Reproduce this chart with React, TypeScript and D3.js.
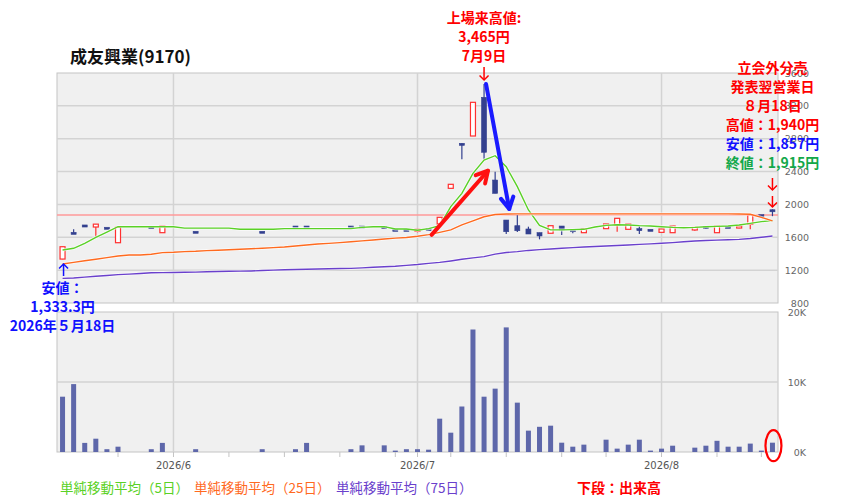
import * as d3 from "d3";

// trading days, 2026-05-18 .. 2026-08-18
const dates = [
  "2026-05-18", "2026-05-19", "2026-05-20", "2026-05-21", "2026-05-22",
  "2026-05-25", "2026-05-26", "2026-05-27", "2026-05-28", "2026-05-29",
  "2026-06-01", "2026-06-02", "2026-06-03", "2026-06-04", "2026-06-05",
  "2026-06-08", "2026-06-09", "2026-06-10", "2026-06-11", "2026-06-12",
  "2026-06-15", "2026-06-16", "2026-06-17", "2026-06-18", "2026-06-19",
  "2026-06-22", "2026-06-23", "2026-06-24", "2026-06-25", "2026-06-26",
  "2026-06-29", "2026-06-30",
  "2026-07-01", "2026-07-02", "2026-07-03", "2026-07-06", "2026-07-07",
  "2026-07-08", "2026-07-09", "2026-07-10", "2026-07-13", "2026-07-14",
  "2026-07-15", "2026-07-16", "2026-07-17", "2026-07-21", "2026-07-22",
  "2026-07-23", "2026-07-24", "2026-07-27", "2026-07-28", "2026-07-29",
  "2026-07-30", "2026-07-31",
  "2026-08-03", "2026-08-04", "2026-08-05", "2026-08-06", "2026-08-07",
  "2026-08-10", "2026-08-12", "2026-08-13", "2026-08-14", "2026-08-17",
  "2026-08-18",
];

const N = null;
const opens = [
  1335, 1660, 1750, 1725, 1722, 1534, N, N, 1729, 1656,
  N, N, 1673, N, N, N, N, N, 1673, N,
  N, 1737, 1737, N, N, N, 1737, 1737, N, 1729,
  1697, 1697, 1680, 1705, 1762, 2196, 2744, 2833, 3304, 2297,
  1810, 1741, 1701, 1656, 1649, 1737, 1692, 1656, N, 1705,
  1750, 1697, 1705, 1697, 1660, 1656, N, 1689, 1733, 1656,
  1733, 1733, 1758, 1875, 1935,
];
const highs = [
  1485, 1697, 1750, 1762, 1722, 1722, N, N, 1729, 1737,
  N, N, 1673, N, N, N, N, N, 1673, N,
  N, 1737, 1737, N, N, N, 1737, 1737, N, 1729,
  1697, 1697, 1697, 1705, 1843, 2245, 2744, 3243, 3465, 2398,
  1810, 1871, 1729, 1656, 1741, 1737, 1692, 1705, N, 1762,
  1831, 1762, 1737, 1697, 1701, 1737, N, 1721, 1733, 1737,
  1733, 1737, 1871, 1875, 1940,
];
const lows = [
  1333, 1656, 1725, 1607, 1722, 1534, N, N, 1729, 1656,
  N, N, 1673, N, N, N, N, N, 1673, N,
  N, 1737, 1737, N, N, N, 1737, 1737, N, 1729,
  1697, 1697, 1660, 1705, 1762, 2196, 2549, 2833, 2549, 2135,
  1640, 1665, 1640, 1575, 1649, 1628, 1649, 1656, N, 1705,
  1668, 1697, 1640, 1697, 1660, 1656, N, 1680, 1700, 1656,
  1733, 1710, 1697, 1875, 1857,
];
const closes = [
  1485, 1656, 1725, 1760, 1722, 1722, N, N, 1729, 1737,
  N, N, 1673, N, N, N, N, N, 1673, N,
  N, 1737, 1737, N, N, N, 1737, 1737, N, 1729,
  1697, 1697, 1697, 1705, 1843, 2245, 2720, 3243, 2635, 2135,
  1668, 1680, 1640, 1616, 1741, 1689, 1689, 1705, N, 1762,
  1831, 1762, 1695, 1697, 1701, 1737, N, 1721, 1729, 1737,
  1733, 1737, 1871, 1875, 1915,
];

// volume, thousands of shares
const volumes = [
  7.9, 9.7, 1.3, 1.9, 0.4, 0.76, 0, 0, 0.4, 1.3,
  0, 0, 0.4, 0, 0, 0, 0, 0, 0.4, 0,
  0, 0.4, 1.3, 0, 0, 0, 0.4, 0.95, 0, 0.95,
  0.2, 0.4, 0.4, 0.33, 4.76, 2.76, 6.5, 17.5, 7.9, 9.05,
  17.8, 7.05, 3.05, 3.6, 3.76, 1.33, 0.76, 1.05, 0, 1.76,
  0.48, 1.05, 1.76, 0.2, 0.48, 0.9, 0, 0.62, 0.9, 1.6,
  0.76, 0.76, 1.2, 0.2, 1.33,
];

const ma5 = [
  1445, 1466, 1527, 1600, 1664, 1729, 1729, 1729, 1729, 1729,
  1729, 1712, 1712, 1712, 1712, 1712, 1698, 1698, 1698, 1698,
  1706, 1706, 1706, 1706, 1706, 1706, 1706, 1721, 1729, 1729,
  1701, 1701, 1685, 1705, 1741, 1973, 2135, 2379, 2541, 2593,
  2459, 2216, 1932, 1745, 1690, 1690, 1693, 1697, 1725, 1745,
  1753, 1750, 1742, 1737, 1729, 1721, 1717, 1721, 1729, 1733,
  1737, 1750, 1770, 1790, 1805,
];
const ma25 = [
  1275, 1295, 1315, 1332, 1352, 1372, 1384, 1384, 1393, 1413,
  1417, 1425, 1430, 1438, 1442, 1448, 1455, 1460, 1466, 1474,
  1482, 1494, 1506, 1518, 1526, 1535, 1545, 1556, 1567, 1580,
  1590, 1598, 1612, 1632, 1660, 1690, 1750, 1800, 1850, 1878,
  1884, 1885, 1885, 1885, 1885, 1885, 1885, 1885, 1885, 1885,
  1885, 1885, 1885, 1885, 1885, 1885, 1885, 1885, 1885, 1885,
  1885, 1884, 1880, 1842, 1800,
];
const ma75 = [
  1100, 1105, 1115, 1125, 1135, 1145, 1152, 1160, 1168, 1170,
  1172, 1174, 1176, 1180, 1183, 1186, 1188, 1190, 1195, 1200,
  1204, 1208, 1211, 1214, 1217, 1220, 1222, 1228, 1235, 1241,
  1247, 1258, 1268, 1282, 1295, 1312, 1332, 1350, 1365, 1395,
  1415, 1425, 1440, 1450, 1458, 1466, 1474, 1482, 1488, 1494,
  1500, 1506, 1514, 1520, 1527, 1535, 1545, 1555, 1560, 1565,
  1570, 1575, 1585, 1600, 1616,
];

const refPrice = 1871;
const priceTicks = [800, 1200, 1600, 2000, 2400, 2800, 3200, 3600];
const volTicks = [0, 10, 20];

const legend = [
  { label: "単純移動平均（5日）", color: "#5ad126" },
  { label: "単純移動平均（25日）", color: "#ff6a1f" },
  { label: "単純移動平均（75日）", color: "#6a40cc" },
];

const C_UP = "#ff3030";
const C_DOWN = "#33408f";
const C_VOL = "#5e67aa";
const JP = "'Noto Sans CJK JP', sans-serif";
const AX = "'DejaVu Sans', sans-serif";

const PL = 57, PR = 778, PT = 73, PB = 303, VT = 312, VB = 452;

export default function App() {
  const x = d3.scaleBand<number>().domain(d3.range(dates.length)).range([PL, PR]);
  const xc = (i: number) => (x(i) as number) + x.bandwidth() / 2;
  const yP = d3.scaleLinear().domain([800, 3600]).range([PB, PT]);
  const yV = d3.scaleLinear().domain([0, 20]).range([VB, VT]);

  const parsed = dates.map((d) => new Date(d + "T00:00:00"));
  const monthStarts = d3.range(1, dates.length).filter((i) => parsed[i].getMonth() !== parsed[i - 1].getMonth());
  const weekStarts = d3.range(1, dates.length).filter((i) => parsed[i].getDay() < parsed[i - 1].getDay() || monthStarts.includes(i));

  const line = d3.line<number>().x((_, i) => xc(i)).y((d) => yP(d));
  const mas = [ma5, ma25, ma75];

  const bw = 5;
  const chevron = (cx: number, cy: number, dir: number, s: number) =>
    `M${cx - s},${cy - dir * s}L${cx},${cy}L${cx + s},${cy - dir * s}`;

  // thick annotation arrows
  const redA = { x1: xc(33) + 3, y1: yP(1630), x2: xc(37) + 15, y2: yP(2410) };
  const blueA = { x1: xc(38) + 2, y1: yP(3465), x2: xc(40) + 3, y2: yP(1945) };
  const head = (a, len: number) => {
    const ang = Math.atan2(a.y2 - a.y1, a.x2 - a.x1);
    const p = (da: number) => [a.x2 - len * Math.cos(ang + da), a.y2 - len * Math.sin(ang + da)];
    const [l, r] = [p(0.5), p(-0.5)];
    return `M${l[0]},${l[1]}L${a.x2},${a.y2}L${r[0]},${r[1]}`;
  };

  const topX = xc(38);
  const rightX = xc(64);
  const leftX = xc(0);

  return (
    <svg width={845} height={504} style={{ position: "absolute", left: 0, top: 0, background: "#fff" }}>
      {/* title */}
      <text x={70} y={63} fontFamily={JP} fontSize={17} fontWeight="bold" fill="#111">成友興業(9170)</text>

      {/* panels */}
      <rect x={PL} y={PT} width={PR - PL} height={PB - PT} fill="#f0f0f0" stroke="#c4c4c4" />
      <rect x={PL} y={VT} width={PR - PL} height={VB - VT} fill="#f0f0f0" stroke="#c4c4c4" />

      {priceTicks.slice(1, -1).map((t) => (
        <line key={t} x1={PL} x2={PR} y1={yP(t)} y2={yP(t)} stroke="#d3d3d3" strokeWidth={1.5} />
      ))}
      <line x1={PL} x2={PR} y1={yV(10)} y2={yV(10)} stroke="#d3d3d3" strokeWidth={1.5} />
      {monthStarts.map((i) => (
        <g key={i}>
          <line x1={xc(i)} x2={xc(i)} y1={PT} y2={PB} stroke="#d3d3d3" strokeWidth={1.5} />
          <line x1={xc(i)} x2={xc(i)} y1={VT} y2={VB} stroke="#d3d3d3" strokeWidth={1.5} />
        </g>
      ))}

      {/* x ticks */}
      {weekStarts.map((i) => (
        <line key={i} x1={xc(i)} x2={xc(i)} y1={VB} y2={VB + 5} stroke="#c4c4c4" />
      ))}
      {monthStarts.map((i) => (
        <text key={i} x={xc(i)} y={469} textAnchor="middle" fontFamily={AX} fontSize={10} fill="#555">
          {d3.timeFormat("%Y/%-m")(parsed[i])}
        </text>
      ))}

      {/* y labels */}
      {priceTicks.map((t) => (
        <text key={t} x={809} y={yP(t) + 3.5} textAnchor="end" fontFamily={AX} fontSize={9.5} fill="#666">{t}</text>
      ))}
      {volTicks.map((t) => (
        <text key={t} x={806} y={yV(t) + 3.5} textAnchor="end" fontFamily={AX} fontSize={9.5} fill="#666">{t}K</text>
      ))}

      {/* reference line */}
      <line x1={PL} x2={PR} y1={yP(refPrice)} y2={yP(refPrice)} stroke="#ff9a9a" strokeWidth={1.6} />

      {/* candles */}
      {dates.map((d, i) => {
        const o = opens[i], c = closes[i];
        if (o == null || c == null) return null;
        const up = c > o;
        const col = up ? C_UP : C_DOWN;
        const top = yP(Math.max(o, c));
        const h = Math.max(2, Math.abs(yP(o) - yP(c)));
        return (
          <g key={d}>
            <line x1={xc(i)} x2={xc(i)} y1={yP(highs[i])} y2={yP(lows[i])} stroke={col} strokeWidth={1.2} />
            <rect x={xc(i) - bw / 2} y={top} width={bw} height={h}
              fill={up ? "#fff" : col} stroke={col} strokeWidth={up ? 1.2 : 0.6} />
          </g>
        );
      })}

      {/* moving averages */}
      {mas.map((m, k) => (
        <g key={k}>
          <path d={line(m)} fill="none" stroke="#fff" strokeOpacity={0.7} strokeWidth={3} />
          <path d={line(m)} fill="none" stroke={legend[k].color} strokeWidth={1.4} />
        </g>
      ))}

      {/* volume */}
      {volumes.map((v, i) =>
        v > 0 ? (
          <rect key={i} x={xc(i) - bw / 2} y={yV(v)} width={bw} height={VB - yV(v)} fill={C_VOL} />
        ) : null
      )}
      <ellipse cx={xc(64) + 1} cy={yV(0.9)} rx={8} ry={15.5} fill="none" stroke="#ff0000" strokeWidth={2.2} />

      {/* thick arrows */}
      {[{ a: redA, c: "#ff1010" }, { a: blueA, c: "#1a1aff" }].map(({ a, c }, k) => (
        <g key={k} stroke={c} strokeWidth={4} fill="none" strokeLinecap="round" strokeLinejoin="round">
          <line x1={a.x1} y1={a.y1} x2={a.x2} y2={a.y2} />
          <path d={head(a, 13)} />
        </g>
      ))}

      {/* top annotation */}
      <g fontFamily={JP} fontSize={14} fontWeight="bold" fill="#ff0000" textAnchor="middle">
        <text x={topX} y={23}>上場来高値:</text>
        <text x={topX} y={42}>3,465円</text>
        <text x={topX} y={61}>7月9日</text>
      </g>
      <g stroke="#ff0000" strokeWidth={1.5} fill="none">
        <line x1={topX} x2={topX} y1={67} y2={80} />
        <path d={chevron(topX, 80, 1, 4.5)} />
      </g>

      {/* right annotation */}
      <g fontFamily={JP} fontSize={14} fontWeight="bold" textAnchor="middle">
        <text x={rightX} y={73} fill="#ff0000">立会外分売</text>
        <text x={rightX} y={92} fill="#ff0000">発表翌営業日</text>
        <text x={rightX} y={111} fill="#ff0000">８月18日</text>
        <text x={rightX} y={130} fill="#ff0000">高値：1,940円</text>
        <text x={rightX} y={149} fill="#1010ff">安値：1,857円</text>
        <text x={rightX} y={168} fill="#13a84a">終値：1,915円</text>
      </g>
      <g stroke="#ff0000" strokeWidth={1.5} fill="none">
        <line x1={rightX} x2={rightX} y1={178} y2={190} />
        <path d={chevron(rightX, 190, 1, 4.5)} />
        <line x1={rightX} x2={rightX} y1={196} y2={207} />
        <path d={chevron(rightX, 207, 1, 4.5)} />
      </g>

      {/* left annotation */}
      <g stroke="#1010ff" strokeWidth={1.5} fill="none">
        <line x1={leftX + 1} x2={leftX + 1} y1={264} y2={276} />
        <path d={chevron(leftX + 1, 264, -1, 4.5)} />
      </g>
      <g fontFamily={JP} fontSize={14} fontWeight="bold" fill="#1010ff" textAnchor="middle">
        <text x={leftX} y={293}>安値：</text>
        <text x={leftX} y={312}>1,333.3円</text>
        <text x={leftX} y={331}>2026年５月18日</text>
      </g>

      {/* legend */}
      {(() => {
        let lx = 60;
        return legend.map((l) => {
          const el = (
            <text key={l.label} x={lx} y={493} fontFamily={JP} fontSize={13.5} fill={l.color}>{l.label}</text>
          );
          lx += l.label.length > 10 ? 142 : 134;
          return el;
        });
      })()}
      <text x={577} y={493} fontFamily={JP} fontSize={14} fontWeight="bold" fill="#ff0000">下段：出来高</text>
    </svg>
  );
}
